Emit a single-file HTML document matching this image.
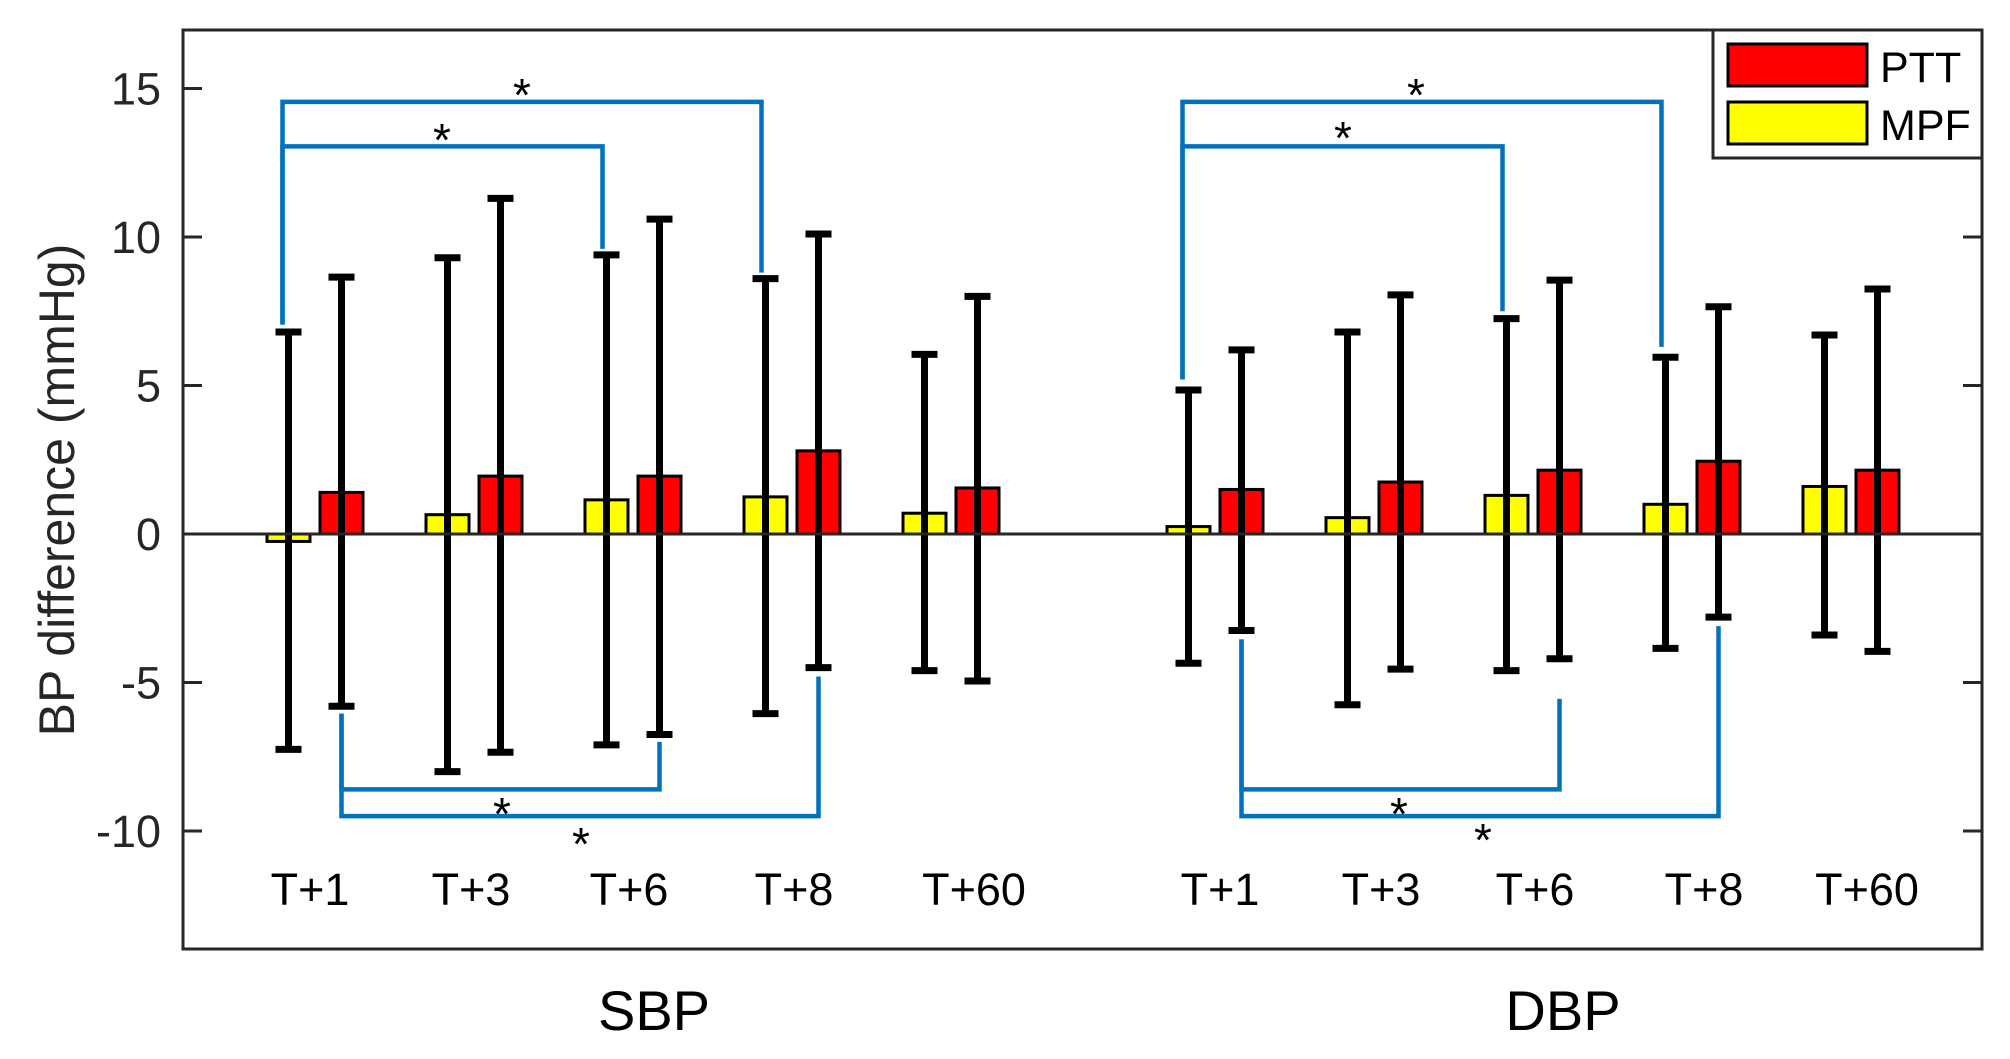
<!DOCTYPE html>
<html><head><meta charset="utf-8"><style>
html,body{margin:0;padding:0;background:#fff;}
svg{display:block;font-family:"Liberation Sans",Arial,sans-serif;}
</style></head><body>
<svg id="chart" width="2010" height="1059" viewBox="0 0 2010 1059" xmlns="http://www.w3.org/2000/svg">
<rect x="0" y="0" width="2010" height="1059" fill="#fff"/>
<g id="plot"></g>
</svg>
<script>
const categories = ["T+1","T+3","T+6","T+8","T+60"];
const groups = ["SBP","DBP"];
const yTicks = [15,10,5,0,-5,-10];
const sbpMpfMean = [-0.25,0.65,1.15,1.25,0.7];
const sbpMpfUpper = [6.8,9.3,9.4,8.6,6.05];
const sbpMpfLower = [-7.25,-8.0,-7.1,-6.05,-4.6];
const sbpPttMean = [1.4,1.95,1.95,2.8,1.55];
const sbpPttUpper = [8.65,11.3,10.6,10.1,8.0];
const sbpPttLower = [-5.8,-7.35,-6.75,-4.5,-4.95];
const dbpMpfMean = [0.25,0.55,1.3,1.0,1.6];
const dbpMpfUpper = [4.85,6.8,7.25,5.95,6.7];
const dbpMpfLower = [-4.35,-5.75,-4.6,-3.85,-3.4];
const dbpPttMean = [1.5,1.75,2.15,2.45,2.15];
const dbpPttUpper = [6.2,8.05,8.55,7.65,8.25];
const dbpPttLower = [-3.25,-4.55,-4.2,-2.8,-3.95];

const NS="http://www.w3.org/2000/svg";
const plot=document.getElementById('plot');
const L=183,R=1982,T=30,B=949;
const y0px=534,unit=29.7;
function y(v){return y0px-unit*v;}
const x0=315,step=159,groupGap=900;
function xc(g,i){return x0+g*groupGap+i*step;}
const labelShift=[[-5,-3,-4,2,23],[5,7,2,12,16]];
const off=26.5,bw=43;
function el(tag,attrs,parent){const e=document.createElementNS(NS,tag);for(const k in attrs)e.setAttribute(k,attrs[k]);(parent||plot).appendChild(e);return e;}

const box=el('rect',{x:L,y:T,width:R-L,height:B-T,fill:'none',stroke:'#262626','stroke-width':3});


yTicks.forEach(v=>{
  const t1=el('line',{x1:L,x2:L+19,y1:y(v),y2:y(v),stroke:'#262626','stroke-width':3});
  
  
  const t2=el('line',{x1:R-19,x2:R,y1:y(v),y2:y(v),stroke:'#262626','stroke-width':3});
  
  
  const tl=el('text',{x:161,y:y(v)+16,'text-anchor':'end','font-size':45,fill:'#262626'});
  tl.textContent=v;
  
  
});

const series=[
 [[sbpMpfMean,sbpMpfUpper,sbpMpfLower,'#ffff00'],[sbpPttMean,sbpPttUpper,sbpPttLower,'#ff0000']],
 [[dbpMpfMean,dbpMpfUpper,dbpMpfLower,'#ffff00'],[dbpPttMean,dbpPttUpper,dbpPttLower,'#ff0000']]
];
series.forEach((gs,g)=>{
  gs.forEach((s,k)=>{
    const [mean,up,lo,col]=s;
    categories.forEach((c,i)=>{
      const cx=xc(g,i)+(k===0?-off:off);
      const top=Math.min(y(mean[i]),y(0)),h=Math.abs(y(mean[i])-y(0));
      const b=el('rect',{x:cx-bw/2,y:top,width:bw,height:Math.max(h,2),fill:col,stroke:'#000','stroke-width':3});
      
      
      const e=el('path',{d:`M${cx} ${y(up[i])}V${y(lo[i])}M${cx-13} ${y(up[i])}H${cx+13}M${cx-13} ${y(lo[i])}H${cx+13}`,stroke:'#000','stroke-width':7,fill:'none'});
      
      
    });
  });
  categories.forEach((c,i)=>{
    const t=el('text',{x:xc(g,i)+labelShift[g][i],y:905,'text-anchor':'middle','font-size':45,fill:'#000'});
    t.textContent=c;
    
    
  });
  const gl=el('text',{x:g===0?654:1563,y:1030,'text-anchor':'middle','font-size':56,fill:'#000'});
  gl.textContent=groups[g];
  
  
});
const zl2=el('line',{x1:L,x2:R,y1:y(0),y2:y(0),stroke:'#262626','stroke-width':3});



const brackets=[
 [0,-1,7.05,3,-1,8.8,14.55,522,89],
 [0,-1,7.05,2,-1,9.6,13.05,442,134],
 [0,1,-6.05,3,1,-4.8,-9.5,581,838],
 [0,1,-6.05,2,1,-7.0,-8.6,502,808],
 [1,-1,5.2,3,-1,6.3,14.55,1416,89],
 [1,-1,5.2,2,-1,7.5,13.05,1343,132],
 [1,1,-3.55,3,1,-3.1,-9.5,1483,834],
 [1,1,-3.55,2,1,-5.55,-8.6,1399,808]
];
brackets.forEach(bk=>{
  const [g,s1,v1,i2,s2,v2,lv,sx,sy]=bk;
  const xa=xc(g,0)+s1*(off+(s1<0?6:0)), xb=xc(g,i2)+s2*off-(s2<0?4:0);
  const p=el('path',{d:`M${xa} ${y(v1)}V${y(lv)}H${xb}V${y(v2)}`,stroke:'#0072BD','stroke-width':4.5,fill:'none'});
  
  
  const st=el('text',{x:sx,y:sy+22,'text-anchor':'middle','font-size':46,fill:'#000'});
  st.textContent='*';
  
  
});

const yt=el('text',{x:0,y:0,transform:'translate(74,490) rotate(-90)','text-anchor':'middle','font-size':50,fill:'#262626'});
yt.textContent='BP difference (mmHg)';



const lg=el('g',{});


el('rect',{x:1713,y:30,width:269,height:128,fill:'#fff',stroke:'#262626','stroke-width':3},lg);
const lr=el('rect',{x:1728,y:44,width:139,height:42,fill:'#ff0000',stroke:'#000','stroke-width':3},lg);


const ly=el('rect',{x:1728,y:102,width:139,height:42,fill:'#ffff00',stroke:'#000','stroke-width':3},lg);


const t1=el('text',{x:1880,y:82,'font-size':43,fill:'#000'},lg);
t1.textContent='PTT';


const t2=el('text',{x:1880,y:140,'font-size':43,fill:'#000'},lg);
t2.textContent='MPF';


</script>
</body></html>
